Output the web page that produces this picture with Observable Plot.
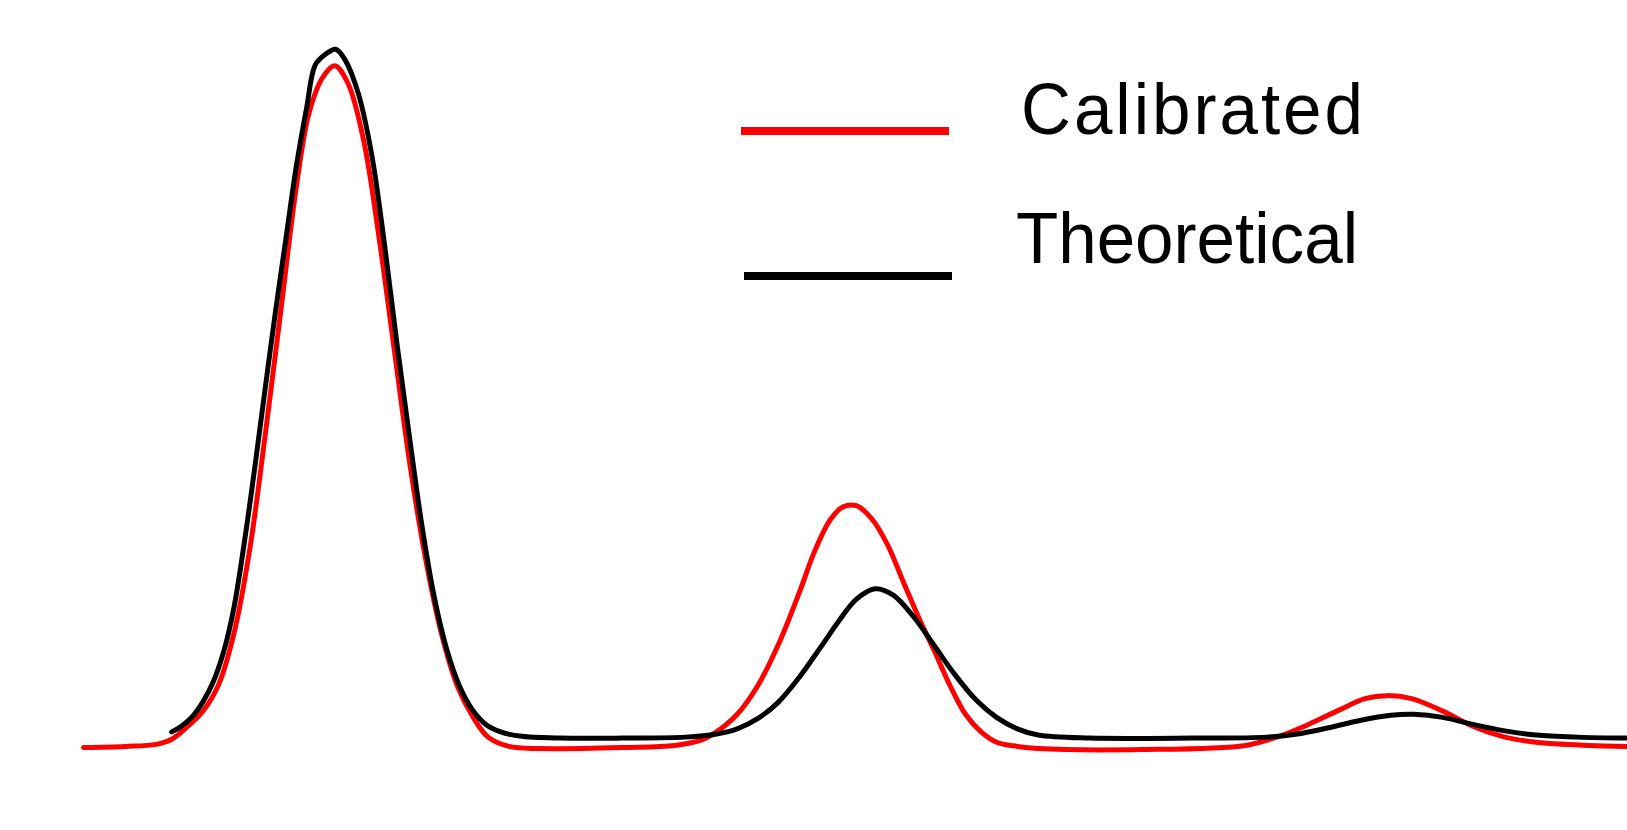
<!DOCTYPE html>
<html>
<head>
<meta charset="utf-8">
<script src="https://cdn.jsdelivr.net/npm/d3@7"></script>
<script src="https://cdn.jsdelivr.net/npm/@observablehq/plot@0.6"></script>
<style>
  html, body { margin: 0; padding: 0; background: #fff; }
  #wrap { position: relative; width: 1627px; height: 830px; overflow: hidden; }
  #legend { position: absolute; left: 0; top: 0; }
</style>
</head>
<body>
<div id="wrap"></div>
<script>
// Calibrated (red) series
const calX = [5.10, 7.65, 9.57, 10.52, 11.48, 12.44, 13.39, 14.35, 15.31, 16.26, 17.22, 18.18, 18.94, 19.77, 20.54, 21.36, 22.32, 23.28, 24.23, 25.19, 26.15, 27.10, 28.06, 29.02, 29.97, 31.25, 33.16, 38.27, 41.45, 43.05, 44.01, 45.28, 46.56, 47.83, 49.11, 50.06, 51.02, 51.79, 52.61, 53.57, 54.53, 55.48, 56.44, 57.40, 58.35, 59.31, 60.27, 61.22, 62.50, 63.78, 70.15, 76.53, 78.44, 80.36, 82.27, 83.86, 85.27, 86.73, 88.65, 90.56, 92.47, 94.39, 97.58, 100.0];
const calY = [0, 0.13, 0.38, 1.0, 2.5, 4.38, 7.5, 13.75, 23.75, 37.5, 52.5, 67.5, 76.25, 80.63, 82.13, 80.0, 73.13, 61.25, 47.5, 33.75, 22.5, 13.75, 7.5, 3.75, 1.25, 0.13, -0.13, 0, 0.25, 0.88, 1.88, 4.0, 7.5, 12.5, 18.75, 23.75, 27.5, 29.0, 29.13, 27.5, 24.38, 20.0, 15.63, 11.63, 7.5, 4.0, 1.88, 0.63, 0.13, -0.13, -0.25, 0.25, 1.25, 2.75, 4.5, 5.88, 6.25, 5.88, 4.38, 2.5, 1.25, 0.63, 0.25, 0.13];

// Theoretical (black) series
const theoX = [10.52, 11.16, 11.80, 12.44, 13.07, 13.71, 14.35, 14.99, 15.63, 16.26, 16.90, 17.54, 18.18, 18.81, 19.35, 19.96, 20.60, 21.17, 22.00, 22.83, 23.60, 24.36, 25.13, 25.89, 26.66, 27.42, 28.19, 29.02, 29.85, 30.74, 31.89, 34.44, 38.27, 42.09, 44.01, 45.28, 46.56, 47.83, 49.11, 50.38, 51.53, 52.61, 53.76, 54.85, 56.12, 57.40, 58.67, 59.95, 61.22, 62.50, 63.78, 66.96, 73.34, 77.81, 79.72, 81.63, 83.55, 85.46, 86.86, 88.65, 90.56, 92.47, 94.39, 96.94, 100.0];
const theoY = [1.88, 2.63, 3.75, 5.5, 7.88, 11.5, 16.88, 24.75, 33.75, 43.13, 52.5, 61.25, 70.0, 77.0, 82.25, 83.5, 84.13, 82.88, 78.75, 71.25, 60.63, 48.75, 37.5, 26.88, 18.13, 11.88, 7.5, 4.5, 2.75, 1.88, 1.38, 1.13, 1.13, 1.25, 1.63, 2.25, 3.5, 5.5, 8.5, 12.0, 15.25, 17.88, 19.13, 18.38, 15.75, 12.25, 8.75, 5.75, 3.63, 2.25, 1.5, 1.13, 1.13, 1.25, 1.63, 2.38, 3.25, 3.88, 4.0, 3.63, 2.75, 2.0, 1.5, 1.25, 1.13];

// Legend entries
const legendLabels = ["Calibrated", "Theoretical"];
const legendColors = ["#ff0000", "#000000"];

const cal = calX.map((x, i) => ({x, y: calY[i]}));
const theo = theoX.map((x, i) => ({x, y: theoY[i]}));

const chart = Plot.plot({
  width: 1627,
  height: 830,
  margin: 0,
  x: {domain: [0, 100], axis: null},
  y: {domain: [-10, 90], axis: null},
  marks: [
    Plot.line(cal, {x: "x", y: "y", stroke: legendColors[0], strokeWidth: 5, curve: "catmull-rom"}),
    Plot.line(theo, {x: "x", y: "y", stroke: legendColors[1], strokeWidth: 5, curve: "catmull-rom"})
  ]
});
const wrap = document.getElementById("wrap");
wrap.appendChild(chart);

// Legend overlay
const ns = "http://www.w3.org/2000/svg";
const lg = document.createElementNS(ns, "svg");
lg.setAttribute("id", "legend");
lg.setAttribute("width", 1627);
lg.setAttribute("height", 830);
const sx = 0.96;
const rows = [
  {x1: 741, x2: 949, ly: 131, tx: 1021, ty: 134, len: 342},
  {x1: 744, x2: 952, ly: 276, tx: 1016, ty: 263, len: 342}
];
legendLabels.forEach((lab, i) => {
  const r = rows[i];
  const ln = document.createElementNS(ns, "line");
  ln.setAttribute("x1", r.x1); ln.setAttribute("x2", r.x2);
  ln.setAttribute("y1", r.ly); ln.setAttribute("y2", r.ly);
  ln.setAttribute("stroke", legendColors[i]);
  ln.setAttribute("stroke-width", 8);
  lg.appendChild(ln);
  const t = document.createElementNS(ns, "text");
  t.setAttribute("x", 0); t.setAttribute("y", 0);
  t.setAttribute("transform", `translate(${r.tx},${r.ty}) scale(${sx},1.01)`);
  t.setAttribute("font-family", "'Liberation Sans', Arial, sans-serif");
  t.setAttribute("font-size", 72);
  t.setAttribute("fill", "#000");
  t.setAttribute("textLength", r.len / sx);
  t.setAttribute("lengthAdjust", "spacing");
  t.textContent = lab;
  lg.appendChild(t);
});
wrap.appendChild(lg);
</script>
</body>
</html>
